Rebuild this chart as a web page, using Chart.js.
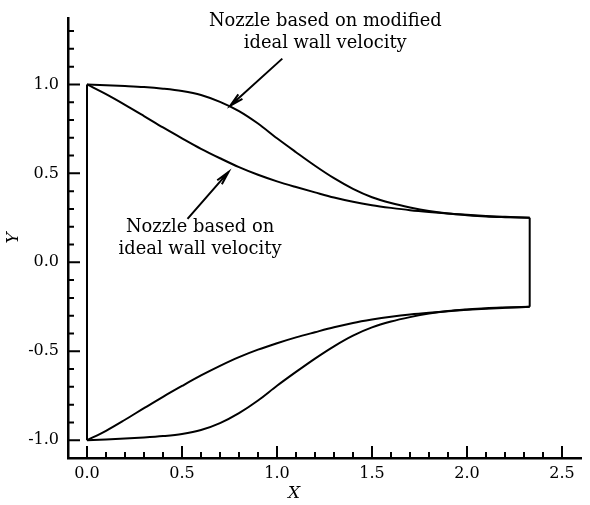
<!DOCTYPE html>
<html>
<head>
<meta charset="utf-8">
<script src="https://cdn.jsdelivr.net/npm/chart.js@4/dist/chart.umd.min.js"></script>
<style>
    html, body { margin: 0; padding: 0; background: #fff; }
    #wrap { width: 590px; height: 505px; }
</style>
</head>
<body>
<div id="wrap"><canvas id="graph" width="590" height="505"></canvas></div>
<script>
/* wall x stations shared by the four curves */
const x_stations = [0, 0.1, 0.2, 0.3, 0.4, 0.5, 0.6, 0.7, 0.8, 0.9, 1.0, 1.1, 1.2,
    1.3, 1.4, 1.5, 1.6, 1.7, 1.8, 1.9, 2.0, 2.1, 2.2, 2.33];

const modified_upper = [1.0, 0.996, 0.991, 0.985, 0.976, 0.963, 0.941, 0.902, 0.85,
    0.78, 0.697, 0.619, 0.543, 0.473, 0.413, 0.366, 0.333, 0.308, 0.288, 0.274, 0.265,
    0.258, 0.254, 0.25];
const ideal_upper = [1.0, 0.945, 0.885, 0.822, 0.758, 0.697, 0.638, 0.585, 0.535,
    0.492, 0.455, 0.423, 0.393, 0.364, 0.34, 0.321, 0.306, 0.293, 0.283, 0.275, 0.267,
    0.261, 0.256, 0.25];
const modified_lower = [-1.0, -0.996, -0.991, -0.985, -0.977, -0.965, -0.943, -0.904,
    -0.848, -0.777, -0.694, -0.616, -0.541, -0.472, -0.412, -0.366, -0.333, -0.308,
    -0.288, -0.274, -0.265, -0.258, -0.254, -0.25];
const ideal_lower = [-1.0, -0.947, -0.885, -0.82, -0.756, -0.695, -0.636, -0.582,
    -0.533, -0.491, -0.455, -0.422, -0.393, -0.365, -0.341, -0.322, -0.306, -0.293,
    -0.283, -0.275, -0.267, -0.261, -0.256, -0.25];

const inlet_x = [0, 0];
const inlet_y = [-1.0, 1.0];
const exit_x = [2.33, 2.33];
const exit_y = [-0.25, 0.25];

/* annotations: text lines and arrows (tail -> tip) in data units */
const note_modified = ["Nozzle based on modified", "ideal wall velocity"];
const note_modified_at = [1.254, 1.357];
const arrow_modified = [[1.028, 1.145], [0.754, 0.88]];
const note_ideal = ["Nozzle based on", "ideal wall velocity"];
const note_ideal_at = [0.595, 0.198];
const arrow_ideal = [[0.529, 0.244], [0.745, 0.508]];

const serif = "'DejaVu Serif', 'Liberation Serif', serif";

function pts(xs, ys) {
    const out = [];
    for (let i = 0; i < xs.length; i++) {
        out.push({ x: xs[i], y: ys[i] });
    }
    return out;
}

function line(data) {
    return {
        data: data,
        showLine: true,
        borderColor: "#000",
        borderWidth: 2,
        pointRadius: 0,
        fill: false,
        cubicInterpolationMode: "monotone",
    };
}

function drawArrow(ctx, xs, ys, a) {
    const x0 = xs.getPixelForValue(a[0][0]);
    const y0 = ys.getPixelForValue(a[0][1]);
    const x1 = xs.getPixelForValue(a[1][0]);
    const y1 = ys.getPixelForValue(a[1][1]);
    const ang = Math.atan2(y1 - y0, x1 - x0);
    const head = 14;
    const spread = 0.22;
    ctx.beginPath();
    ctx.moveTo(x0, y0);
    ctx.lineTo(x1, y1);
    ctx.moveTo(x1 - head * Math.cos(ang - spread), y1 - head * Math.sin(ang - spread));
    ctx.lineTo(x1, y1);
    ctx.lineTo(x1 - head * Math.cos(ang + spread), y1 - head * Math.sin(ang + spread));
    ctx.stroke();
}

function drawNote(ctx, xs, ys, lines, at, size) {
    const cx = xs.getPixelForValue(at[0]);
    const cy = ys.getPixelForValue(at[1]);
    ctx.font = size + "px " + serif;
    ctx.textAlign = "center";
    ctx.textBaseline = "middle";
    for (let i = 0; i < lines.length; i++) {
        ctx.fillText(lines[i], cx, cy + i * 22);
    }
}

const decor = {
    id: "decor",
    afterDraw(chart) {
        const ctx = chart.ctx;
        const xs = chart.scales.x;
        const ys = chart.scales.y;
        const area = chart.chartArea;
        ctx.save();
        ctx.strokeStyle = "#000";
        ctx.fillStyle = "#000";

        /* inward ticks, major every 0.5, minor every 0.1 */
        ctx.lineWidth = 2;
        ctx.beginPath();
        for (let k = -10; k <= 13; k++) {
            const py = ys.getPixelForValue(k / 10);
            const len = k % 5 === 0 ? 12 : 6;
            ctx.moveTo(area.left, py);
            ctx.lineTo(area.left + len, py);
        }
        for (let k = 0; k <= 25; k++) {
            const px = xs.getPixelForValue(k / 10);
            const len = k % 5 === 0 ? 12 : 6;
            ctx.moveTo(px, area.bottom);
            ctx.lineTo(px, area.bottom - len);
        }
        ctx.stroke();

        /* axis titles */
        ctx.font = "italic 17px " + serif;
        ctx.textAlign = "center";
        ctx.textBaseline = "middle";
        ctx.fillText("X", 294, 494);
        ctx.save();
        ctx.translate(14, 238);
        ctx.rotate(-Math.PI / 2);
        ctx.fillText("Y", 0, 0);
        ctx.restore();

        /* annotation size fitted to the reference line width */
        ctx.font = "100px " + serif;
        const size = (100 * 163) / ctx.measureText("ideal wall velocity").width;
        drawNote(ctx, xs, ys, note_modified, note_modified_at, size);
        drawNote(ctx, xs, ys, note_ideal, note_ideal_at, size);

        ctx.lineWidth = 2;
        drawArrow(ctx, xs, ys, arrow_modified);
        drawArrow(ctx, xs, ys, arrow_ideal);
        ctx.restore();
    },
};

const graph = new Chart(document.getElementById("graph"), {
    type: "scatter",
    data: {
        datasets: [
            line(pts(x_stations, modified_upper)),
            line(pts(x_stations, ideal_upper)),
            line(pts(x_stations, modified_lower)),
            line(pts(x_stations, ideal_lower)),
            line(pts(inlet_x, inlet_y)),
            line(pts(exit_x, exit_y)),
        ],
    },
    options: {
        responsive: false,
        animation: false,
        layout: { padding: { top: 15, right: 9, left: 0, bottom: 0 } },
        plugins: {
            legend: { display: false },
            tooltip: { enabled: false },
        },
        scales: {
            x: {
                type: "linear",
                min: -0.1,
                max: 2.6,
                afterFit: (s) => { s.height = 47; },
                grid: { display: false, drawTicks: false },
                border: { display: true, color: "#000", width: 2.5 },
                ticks: {
                    stepSize: 0.5,
                    includeBounds: false,
                    padding: 6,
                    color: "#000",
                    font: { family: serif, size: 16 },
                    callback: (v) => v.toFixed(1),
                },
            },
            y: {
                type: "linear",
                min: -1.1,
                max: 1.37,
                afterFit: (s) => { s.width = 68; },
                grid: { display: false, drawTicks: false },
                border: { display: true, color: "#000", width: 2.5 },
                ticks: {
                    stepSize: 0.5,
                    includeBounds: false,
                    padding: 9,
                    color: "#000",
                    font: { family: serif, size: 16 },
                    callback: (v) => v.toFixed(1),
                },
            },
        },
    },
    plugins: [decor],
});
</script>
</body>
</html>
